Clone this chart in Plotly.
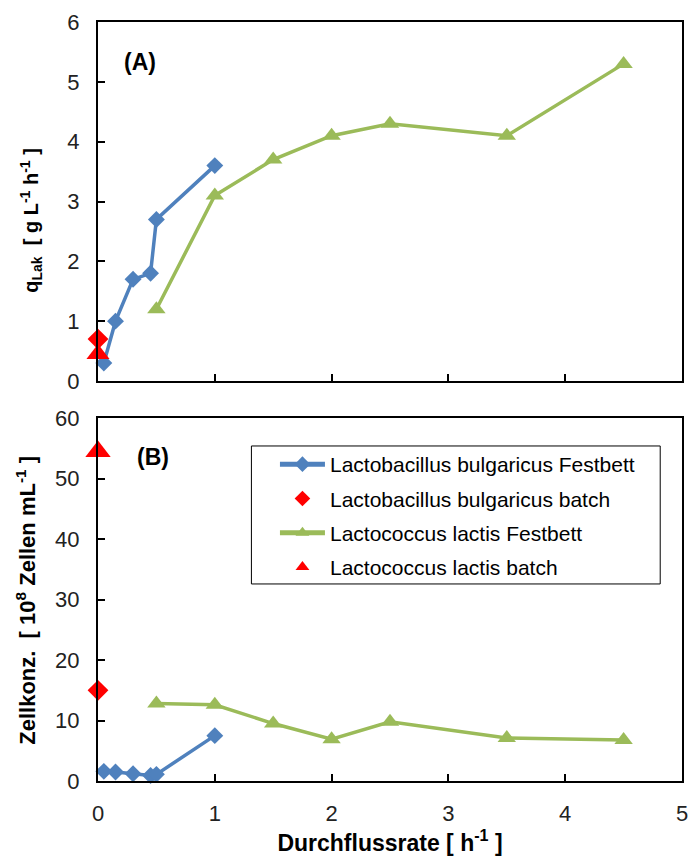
import plotly.graph_objects as go

# ---- data ----
lb_x = [0.05, 0.15, 0.3, 0.45, 0.5, 1.0]
lb_q = [0.3, 1.0, 1.7, 1.8, 2.7, 3.6]
lb_z = [1.6, 1.5, 1.2, 0.9, 1.1, 7.5]

lb_batch_x = [0]
lb_batch_q = [0.7]
lb_batch_z = [15.0]

ll_x = [0.5, 1.0, 1.5, 2.0, 2.5, 3.5, 4.5]
ll_q = [1.2, 3.1, 3.7, 4.1, 4.3, 4.1, 5.3]
ll_z = [12.8, 12.6, 9.5, 6.9, 9.8, 7.1, 6.8]

ll_batch_x = [0]
ll_batch_q = [0.45]
ll_batch_z = [54.5]

names = ["Lactobacillus bulgaricus Festbett", "Lactobacillus bulgaricus batch",
         "Lactococcus lactis Festbett", "Lactococcus lactis batch"]

BLUE = "#4F81BD"
GREEN = "#9BBB59"
RED = "#FF0000"
FONT = "Arial, Liberation Sans, sans-serif"

fig = go.Figure()

def add(x, y, name, color, symbol, size, mode, xa, ya, show, grp):
    fig.add_trace(go.Scatter(
        x=x, y=y, name=name, mode=mode, xaxis=xa, yaxis=ya,
        line=dict(color=color, width=3.5),
        marker=dict(color=color, symbol=symbol, size=size),
        showlegend=show, legendgroup=grp, cliponaxis=False))

# top panel
add(lb_x, lb_q, names[0], BLUE, "diamond", 13, "lines+markers", "x", "y", True, "g1")
add(lb_batch_x, lb_batch_q, names[1], RED, "diamond", 16, "markers", "x", "y", True, "g2")
add(ll_x, ll_q, names[2], GREEN, "triangle-up", 16, "lines+markers", "x", "y", True, "g3")
add(ll_batch_x, ll_batch_q, names[3], RED, "triangle-up", 20, "markers", "x", "y", True, "g4")
# bottom panel
add(lb_x, lb_z, names[0], BLUE, "diamond", 13, "lines+markers", "x2", "y2", False, "g1")
add(lb_batch_x, lb_batch_z, names[1], RED, "diamond", 16, "markers", "x2", "y2", False, "g2")
add(ll_x, ll_z, names[2], GREEN, "triangle-up", 16, "lines+markers", "x2", "y2", False, "g3")
add(ll_batch_x, ll_batch_z, names[3], RED, "triangle-up", 22, "markers", "x2", "y2", False, "g4")

axis_common = dict(showline=True, linecolor="black", linewidth=2, mirror=True,
                   ticks="inside", ticklen=7, tickwidth=2, tickcolor="black",
                   showgrid=False, zeroline=False,
                   tickfont=dict(family=FONT, size=22, color="#222"))

fig.update_layout(
    width=693, height=858,
    margin=dict(l=98, r=5, t=22, b=77),
    paper_bgcolor="white", plot_bgcolor="white",
    font=dict(family=FONT, color="black"),
    xaxis=dict(domain=[0, 1], anchor="y", range=[0, 5], dtick=1,
               showticklabels=False, **axis_common),
    yaxis=dict(domain=[0.527, 1], anchor="x", range=[0, 6], dtick=1,
               ticklabelstandoff=12, **axis_common),
    xaxis2=dict(domain=[0, 1], anchor="y2", range=[0, 5], dtick=1,
                ticklabelstandoff=12,
                title=dict(text="<b>Durchflussrate [ h<sup>-1</sup> ]</b>",
                           font=dict(family=FONT, size=23, color="black"), standoff=5),
                **axis_common),
    yaxis2=dict(domain=[0, 0.478], anchor="x2", range=[0, 60], dtick=10,
                ticklabelstandoff=12, **axis_common),
    legend=dict(x=0.303, y=0.444, xanchor="left", yanchor="top",
                borderwidth=0, bgcolor="rgba(0,0,0,0)",
                font=dict(family=FONT, size=21, color="black"),
                traceorder="grouped", tracegroupgap=4, itemwidth=45,
                itemsizing="constant"),
    shapes=[dict(type="rect", xref="paper", yref="paper",
                 x0=0.2627, x1=0.9627, y0=0.2596, y1=0.4414,
                 line=dict(color="black", width=1), layer="above")],
    annotations=[
        dict(text="<b>(A)</b>", x=0.36, y=5.33, xref="x", yref="y", showarrow=False,
             font=dict(family=FONT, size=23, color="black")),
        dict(text="<b>(B)</b>", x=0.47, y=53.5, xref="x2", yref="y2", showarrow=False,
             font=dict(family=FONT, size=23, color="black")),
        dict(text="<b>q<sub>Lak</sub>  [ g L<sup>-1</sup> h<sup>-1</sup> ]</b>",
             x=-0.1153, y=0.739, xref="paper", yref="paper", textangle=-90,
             xanchor="center", yanchor="middle", showarrow=False,
             font=dict(family=FONT, size=20, color="black")),
        dict(text="<b>Zellkonz.  [ 10<sup>8</sup> Zellen mL<sup>-1</sup> ]</b>",
             x=-0.1237, y=0.2385, xref="paper", yref="paper", textangle=-90,
             xanchor="center", yanchor="middle", showarrow=False,
             font=dict(family=FONT, size=22, color="black")),
    ],
)

fig.write_html("out.html")
